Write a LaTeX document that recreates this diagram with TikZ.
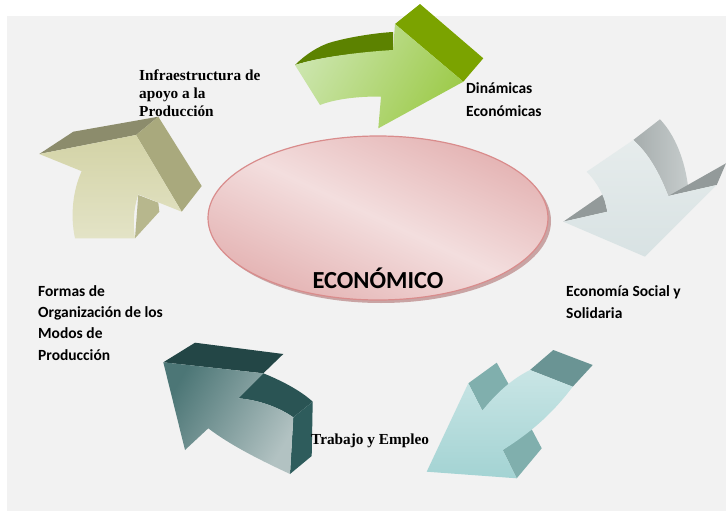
\documentclass[tikz,border=0pt]{standalone}
\usepackage{fontspec}
\usetikzlibrary{shapes.geometric}
\setmainfont{Liberation Serif}
\newfontfamily\carlito{Carlito}
\definecolor{bg}{HTML}{F2F2F2}
\definecolor{pinkdark}{HTML}{DC9C9C}
\definecolor{pinklight}{HTML}{F3DEDE}
\definecolor{pinkedge}{HTML}{D98C8C}
\definecolor{pinkshadow}{HTML}{C9A4A4}
\definecolor{gfrontA}{HTML}{CBE5AC}
\definecolor{gfrontB}{HTML}{9ECB4C}
\definecolor{gtop}{HTML}{5C8200}
\definecolor{gside}{HTML}{7BA300}
\definecolor{kfrontA}{HTML}{D3D3A6}
\definecolor{kfrontB}{HTML}{E3E3C6}
\definecolor{ktop}{HTML}{8C8C6C}
\definecolor{kside}{HTML}{A9A97D}
\definecolor{kshaft}{HTML}{B7B78D}
\definecolor{wfrontA}{HTML}{E6ECEC}
\definecolor{wfrontB}{HTML}{D8E2E3}
\definecolor{wcurveA}{HTML}{A6ADAD}
\definecolor{wcurveB}{HTML}{C6CCCC}
\definecolor{wwedge}{HTML}{939A9A}
\definecolor{tfrontA}{HTML}{C9E5E5}
\definecolor{tfrontB}{HTML}{A3D3D3}
\definecolor{tend}{HTML}{6A9494}
\definecolor{tbarb}{HTML}{80AFAD}
\definecolor{dfrontA}{HTML}{4C7676}
\definecolor{dfrontB}{HTML}{B2C2C2}
\definecolor{dtop}{HTML}{234646}
\definecolor{dshaft}{HTML}{2A5454}
\definecolor{dend}{HTML}{2E5C5C}
\pgfdeclareverticalshading{ellshade}{100bp}{color(0bp)=(pinkdark); color(12bp)=(pinkdark); color(50bp)=(pinklight); color(88bp)=(pinkdark); color(100bp)=(pinkdark)}
\tikzset{
  label/.style={anchor=base west, inner sep=0pt, font=\carlito\bfseries\fontsize{15.5}{18}\selectfont},
  slabel/.style={anchor=base west, inner sep=0pt, font=\bfseries\fontsize{15.3}{18}\selectfont},
}
\begin{document}
\begin{tikzpicture}[x=1pt,y=-1pt]
\useasboundingbox (0,0) rectangle (726,514);
\fill[white] (0,0) rectangle (726,514);
\fill[bg] (7,16) rectangle (726,511);

% central ellipse
\fill[pinkshadow] (381,221) ellipse [x radius=170, y radius=82];
\shade[shading=ellshade, shading angle=-25]
  (378,218) ellipse [x radius=170, y radius=82];
\node[draw=pinkedge, line width=1.2pt, ellipse, minimum width=340pt, minimum height=164pt, inner sep=0pt] (eco) at (378,218) {};
\node[anchor=base, inner sep=0pt, font=\carlito\bfseries\fontsize{24.5}{28}\selectfont] (ecot) at (378,288) {ECONÓMICO};

% green arrow (top)
\fill[gtop] (295,65) .. controls (305,55) and (318,46) .. (332,42) .. controls (350,37) and (375,33) .. (393,32) -- (393,52) .. controls (360,52) and (320,57) .. (295,65) -- cycle;
\fill[gside] (395,24) -- (420,4) -- (483.3,58.3) -- (463.3,81.7) -- cycle;
\shade[left color=gfrontA, right color=gfrontB, shading angle=60]
  (295,65) .. controls (320,57) and (360,52) .. (393,50) -- (395,24) -- (463.3,81.7) -- (378.3,128.3) -- (381,96.7) .. controls (360,96) and (335,99) .. (320,105) -- cycle;

% khaki arrow (upper left)
\fill[ktop] (39.3,154) -- (73.3,131.7) -- (158.3,116.7) -- (136,135) -- cycle;
\fill[kside] (136,135) -- (158.3,116.7) -- (201.7,186) -- (181.7,211.7) -- cycle;
\fill[kshaft] (138.3,195) -- (158.3,202.7) -- (159.3,211.7) -- (135,238.3) -- cycle;
\shade[top color=kfrontA, bottom color=kfrontB]
  (39.3,154) -- (136,135) -- (181.7,211.7) -- (138.3,194.4) .. controls (133,210) and (133,225) .. (135,238.3) -- (75,238.3) .. controls (70,215) and (73,190) .. (81.7,171.2) -- cycle;

% grey-white arrow (right)
\shade[left color=wcurveA, right color=wcurveB]
  (633.3,140) -- (660,119.3) .. controls (675,135) and (685,160) .. (688.3,188.3) -- (668.3,196) .. controls (660,175) and (650,155) .. (633.3,140) -- cycle;
\fill[wwedge] (563.3,221.7) -- (603.3,194) -- (607.3,211.7) -- cycle;
\fill[wwedge] (668.3,196) -- (726,163.3) -- (716.7,185) -- cycle;
\shade[top color=wfrontA, bottom color=wfrontB]
  (563.3,221.7) -- (607.3,211.7) .. controls (605,195) and (595,180) .. (586.7,171.7) -- (633.3,140) .. controls (650,155) and (660,175) .. (668.3,196) -- (716.7,185) -- (645,256.7) -- cycle;

% light teal arrow (lower right)
\fill[tend] (530,370) -- (553.3,350) -- (592.7,365) -- (572.7,386.7) -- cycle;
\fill[tbarb] (468.3,383.3) -- (496.7,362.7) -- (510,386.7) -- (482.3,410.7) -- cycle;
\fill[tbarb] (502.7,450) -- (531.7,429.3) -- (541.7,448.3) -- (516.7,478.3) -- cycle;
\shade[top color=tfrontA, bottom color=tfrontB]
  (426.7,471.7) -- (468.3,383.3) -- (482.3,410.7) .. controls (495,395) and (510,380) .. (530,370) -- (572.7,386.7) .. controls (555,410) and (535,430) .. (502.7,450) -- (516.7,478.3) -- cycle;

% dark teal arrow (lower left)
\fill[dtop] (163.3,362.3) -- (195,342.7) -- (283.3,354) -- (263.3,373.3) -- cycle;
\fill[dshaft] (238.3,398.3) -- (263.3,373.3) .. controls (280,380) and (300,390) .. (312.7,401.7) -- (293.3,417.3) .. controls (280,408) and (260,400) .. (238.3,398.3) -- cycle;
\fill[dend] (293.3,417.3) -- (312.7,401.7) -- (311.7,456) -- (290,474) -- cycle;
\shade[left color=dfrontA, right color=dfrontB, shading angle=60]
  (163.3,362.3) -- (263.3,373.3) -- (238.3,398.3) .. controls (260,400) and (280,408) .. (293.3,417.3) -- (290,474) .. controls (260,460) and (230,445) .. (208.3,428.3) -- (185,450) -- cycle;

% labels
\node[slabel] (in1) at (139,80.7) {Infraestructura de};
\node[slabel] (in2) at (139,98.3) {apoyo a la};
\node[slabel] (in3) at (139,116) {Producción};
\node[label] (di1) at (466,93) {Dinámicas};
\node[label] (di2) at (466,116) {Económicas};
\node[label] (es1) at (566,296) {Economía Social y};
\node[label] (es2) at (566,318) {Solidaria};
\node[label] (fo1) at (38,296) {Formas de};
\node[label] (fo2) at (38,317) {Organización de los};
\node[label] (fo3) at (38,338.5) {Modos de};
\node[label] (fo4) at (38,360) {Producción};
\node[slabel] (tr) at (311,444) {Trabajo y Empleo};
\end{tikzpicture}
\end{document}
